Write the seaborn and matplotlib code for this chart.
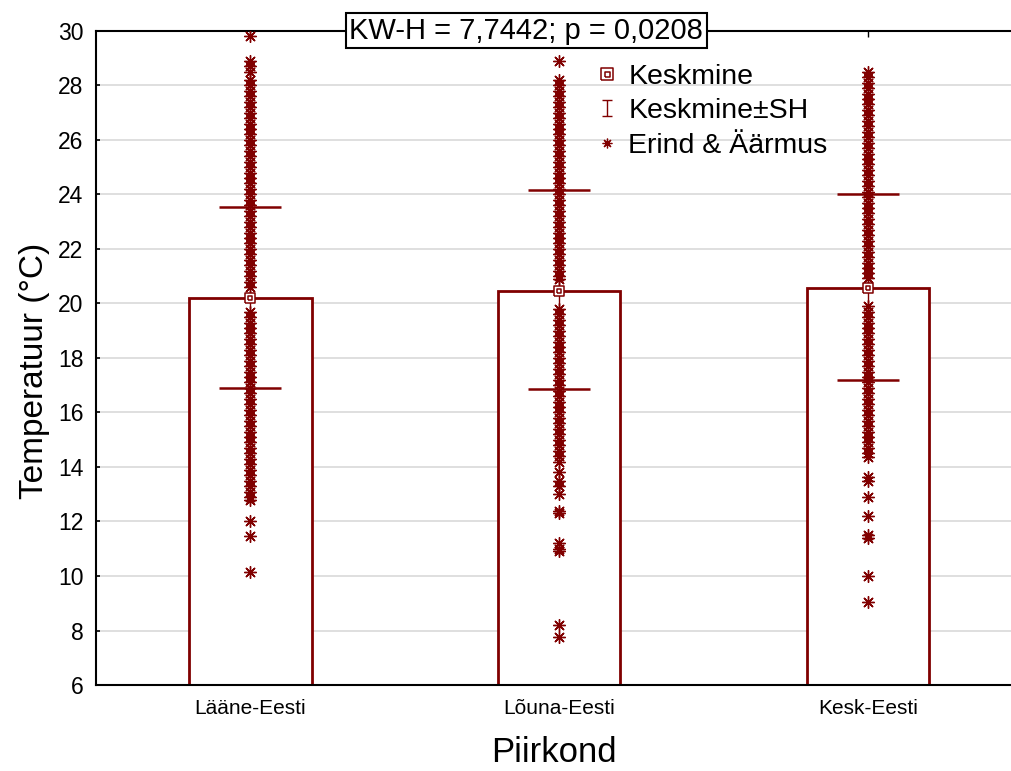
import matplotlib
matplotlib.use("Agg")
import matplotlib.pyplot as plt
from matplotlib.path import Path
from matplotlib.lines import Line2D
import numpy as np
import pandas as pd
import seaborn as sns

# Regions and summary statistics
regions = ["Lääne-Eesti", "Lõuna-Eesti", "Kesk-Eesti"]
means = [20.2, 20.46, 20.57]
upper = [23.55, 24.15, 24.02]
lower = [16.9, 16.86, 17.2]

# Individual temperature readings per region
laane_vals = [29.8, 28.9, 28.7, 28.5,
              28.2, 28.0, 27.8, 27.6, 27.4, 27.2, 27.0, 26.8, 26.6, 26.4,
              26.2, 26.0, 25.8, 25.6, 25.4, 25.2, 25.0, 24.8, 24.6, 24.4,
              24.2, 24.0, 23.8, 23.6, 23.4, 23.2, 23.0, 22.8, 22.6, 22.4,
              22.2, 22.0, 21.8, 21.6, 21.4, 21.2, 21.0, 20.8, 20.6,
              19.7, 19.5, 19.3, 19.1, 18.9, 18.7, 18.5, 18.3, 18.1, 17.9,
              17.7, 17.5, 17.3, 17.1, 16.9, 16.7, 16.5, 16.3, 16.1, 15.9,
              15.7, 15.5, 15.3, 15.1, 14.9, 14.7, 14.5, 14.3, 14.1, 13.9,
              13.7, 13.5, 13.3, 13.1, 12.9, 12.8,
              12.0, 11.45, 10.15]
louna_vals = [28.9,
              28.2, 28.0, 27.8, 27.6, 27.4, 27.2, 27.0, 26.8, 26.6, 26.4,
              26.2, 26.0, 25.8, 25.6, 25.4, 25.2, 25.0, 24.8, 24.6, 24.4,
              24.2, 24.0, 23.8, 23.6, 23.4, 23.2, 23.0, 22.8, 22.6, 22.4,
              22.2, 22.0, 21.8, 21.6, 21.4, 21.2, 21.0, 20.9,
              19.8, 19.6, 19.4, 19.2, 19.0, 18.8, 18.6, 18.4, 18.2, 18.0,
              17.8, 17.6, 17.4, 17.2, 17.0, 16.8, 16.6, 16.4, 16.2, 16.0,
              15.8, 15.6, 15.4, 15.2, 15.0, 14.8, 14.6, 14.4, 14.2,
              13.8, 13.5, 13.3, 13.0,
              12.4, 12.3, 11.2, 11.0, 10.9, 8.2, 7.75]
kesk_vals = [28.5, 28.3, 28.1, 27.9, 27.7, 27.5, 27.3, 27.1, 26.9, 26.7,
             26.5, 26.3, 26.1, 25.9, 25.7, 25.5, 25.3, 25.1, 24.9, 24.7,
             24.5, 24.3, 24.1, 23.9, 23.7, 23.5, 23.3, 23.1, 22.9, 22.7,
             22.5, 22.3, 22.1, 21.9, 21.7, 21.5, 21.3, 21.1, 20.95,
             19.9, 19.7, 19.5, 19.3, 19.1, 18.9, 18.7, 18.5, 18.3, 18.1,
             17.9, 17.7, 17.5, 17.3, 17.1, 16.9, 16.7, 16.5, 16.3, 16.1,
             15.9, 15.7, 15.5, 15.3, 15.1, 14.9, 14.7, 14.5, 14.35,
             13.65, 13.5, 12.9, 12.2, 11.5, 11.4, 10.0, 9.05]

stat_text = "KW-H = 7,7442; p = 0,0208"
legend_labels = ["Keskmine", "Keskmine±SH", "Erind & Äärmus"]

dark_red = "#800000"

sns.set_style("white")
plt.rcParams["font.family"] = ["Liberation Sans", "DejaVu Sans"]
plt.rcParams["text.color"] = "black"
plt.rcParams["axes.labelcolor"] = "black"
plt.rcParams["xtick.color"] = "black"
plt.rcParams["ytick.color"] = "black"

summary = pd.DataFrame({"Piirkond": regions, "mean": means})
points = pd.DataFrame({
    "Piirkond": [regions[0]] * len(laane_vals) + [regions[1]] * len(louna_vals)
                + [regions[2]] * len(kesk_vals),
    "Temperatuur": laane_vals + louna_vals + kesk_vals,
})

fig = plt.figure(figsize=(10.11, 7.71), dpi=100)
ax = fig.add_axes([0.095, 0.1115, 0.905, 0.8485])

# Bars up to the mean
sns.barplot(data=summary, x="Piirkond", y="mean", order=regions,
            width=0.395, facecolor="white", edgecolor=dark_red,
            linewidth=2.0, errorbar=None, ax=ax, zorder=2)

# Mean ± SD whiskers
xpos = np.arange(len(regions))
err = [np.array(means) - np.array(lower), np.array(upper) - np.array(means)]
ax.errorbar(xpos, means, yerr=err, fmt="none", ecolor=dark_red,
            elinewidth=1.0, capsize=22, capthick=1.8, zorder=3)

# Individual readings
asterisk = (8, 2, 0)
sns.stripplot(data=points, x="Piirkond", y="Temperatuur", order=regions,
              jitter=False, marker=asterisk, color=dark_red, size=8.5,
              linewidth=1.0, ax=ax, zorder=4)

# Mean marker: square inside a square
sq = [(-1, -1), (1, -1), (1, 1), (-1, 1), (-1, -1)]
isq = [(x * 0.45, y * 0.45) for x, y in sq]
codes = [Path.MOVETO] + [Path.LINETO] * 4
mean_marker = Path(sq + isq, codes + codes)
ax.plot(xpos, means, linestyle="none", marker=mean_marker, markersize=7.5,
        markerfacecolor="white", markeredgecolor=dark_red,
        markeredgewidth=1.1, zorder=5)

# Axes styling
ax.set_ylim(6, 30)
ax.set_xlim(-0.5, 2.462)
ax.set_yticks(np.arange(6, 31, 2))
ax.yaxis.grid(True, color="#d9d9d9", linewidth=1.2, zorder=0)
ax.set_axisbelow(True)
for side in ["left", "bottom", "top"]:
    ax.spines[side].set_visible(True)
    ax.spines[side].set_color("black")
    ax.spines[side].set_linewidth(1.5)
ax.spines["right"].set_visible(False)
ax.tick_params(axis="y", direction="in", length=3, width=1.2,
               labelsize=16.5, left=True, pad=9)
ax.tick_params(axis="x", direction="in", length=4, width=1.0,
               labelsize=15, bottom=True, top=True, pad=10)
ax.set_xlabel("Piirkond", fontsize=25, labelpad=13)
ax.set_ylabel("Temperatuur (°C)", fontsize=24)
ax.yaxis.set_label_coords(-0.05, 0.48)

# Test statistic box on the top spine
ax.text(0.47, 1.0, stat_text, transform=ax.transAxes, ha="center",
        va="center", fontsize=21, zorder=10,
        bbox=dict(boxstyle="square,pad=0.12", facecolor="white",
                  edgecolor="black", linewidth=1.5))

# Legend
i_beam = Path([(-0.6, 1), (0.6, 1), (0, 1), (0, -1), (-0.6, -1), (0.6, -1)],
              [Path.MOVETO, Path.LINETO, Path.MOVETO, Path.LINETO,
               Path.MOVETO, Path.LINETO])
handles = [
    Line2D([], [], linestyle="none", marker=mean_marker, markersize=8,
           markerfacecolor="white", markeredgecolor=dark_red,
           markeredgewidth=1.1),
    Line2D([], [], linestyle="none", marker=i_beam, markersize=11,
           markeredgecolor=dark_red, markeredgewidth=1.0),
    Line2D([], [], linestyle="none", marker=asterisk, markersize=7,
           markeredgecolor=dark_red, markeredgewidth=0.9),
]
ax.legend(handles, legend_labels, loc="upper left",
          bbox_to_anchor=(0.524, 0.98), frameon=False, fontsize=20.5,
          handlelength=0.8, handletextpad=0.35, labelspacing=0.3,
          borderpad=0.2)

fig.savefig("out.png", dpi=100)
